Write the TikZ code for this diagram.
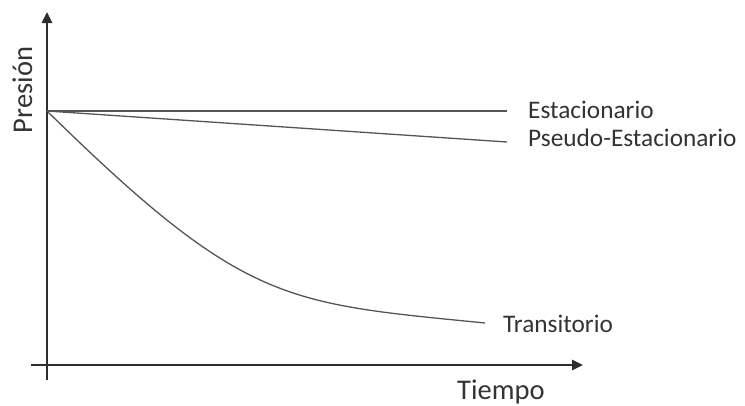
\documentclass[tikz,border=0pt]{standalone}
\usepackage{fontspec}
\setmainfont{Carlito}
\usetikzlibrary{arrows.meta}
\definecolor{axiscol}{HTML}{2E2E2E}
\definecolor{curvecol}{HTML}{555555}
\definecolor{textcol}{HTML}{333333}
\begin{document}
\begin{tikzpicture}[x=1pt,y=-1pt,
  axis/.style={draw=axiscol,line width=2.6pt},
  curve/.style={draw=curvecol,line width=1.3pt},
  lbl/.style={text=textcol,inner sep=0pt,font=\fontsize{25.3}{29}\selectfont},
  axlbl/.style={text=textcol,inner sep=0pt,font=\fontsize{28.5}{32}\selectfont}]
\useasboundingbox (0,0) rectangle (745,405);
% axes
\coordinate (ybot) at (47,380);
\coordinate (ytop) at (47,12);
\coordinate (xleft) at (31,365);
\coordinate (xright) at (583,365);
\draw[axis,-{Triangle[length=11pt,width=10pt]}] (ybot) -- (ytop);
\draw[axis,-{Triangle[length=11pt,width=10pt]}] (xleft) -- (xright);
% labels
\node[axlbl,rotate=90,anchor=base] (pres) at (32,90) {Presión};
\node[axlbl,anchor=base west] (tiem) at (457,399) {Tiempo};
\node[lbl,anchor=base west] (est) at (528,118) {Estacionario};
\node[lbl,anchor=base west] (pse) at (528,146) {Pseudo-Estacionario};
\node[lbl,anchor=base west] (tra) at (503,332) {Transitorio};
% curves
\coordinate (o) at (47,111);
\coordinate (eEst) at (507,111);
\coordinate (ePse) at (507,142);
\coordinate (eTra) at (485,323);
\draw[curve] (o) -- (eEst);
\draw[curve] (o) -- (ePse);
\draw[curve] (o) .. controls (245,305) and (285,303) .. (eTra);
\end{tikzpicture}
\end{document}
